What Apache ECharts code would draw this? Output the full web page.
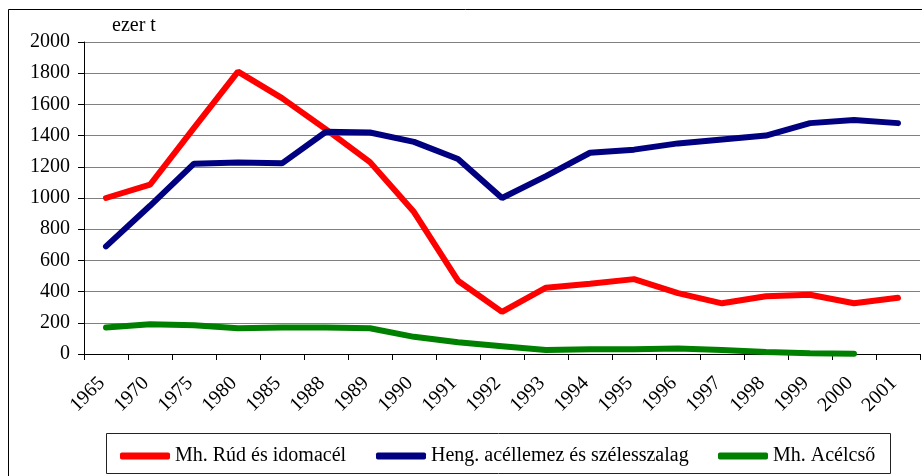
<!DOCTYPE html>
<html>
<head>
<meta charset="utf-8">
<script src="https://cdn.jsdelivr.net/npm/echarts@6/dist/echarts.min.js"></script>
<style>
  html, body { margin: 0; padding: 0; background: #fff; }
  #chart { width: 922px; height: 476px; }
</style>
</head>
<body>
<div id="chart"></div>
<script>
// kategóriák (évek)
const years = ["1965", "1970", "1975", "1980", "1985", "1988", "1989", "1990", "1991", "1992",
  "1993", "1994", "1995", "1996", "1997", "1998", "1999", "2000", "2001"];
// ezer t
const rud = [1000, 1085, 1450, 1810, 1640, 1440, 1230, 910, 470, 270,
  425, 450, 480, 390, 325, 370, 380, 325, 360];
const henger = [690, 950, 1220, 1228, 1222, 1425, 1420, 1360, 1250, 1000,
  1140, 1290, 1310, 1350, 1375, 1400, 1480, 1500, 1480];
const acelcso = [170, 190, 185, 165, 170, 170, 165, 110, 75, 50,
  25, 30, 30, 35, 25, 13, 5, 2, null];
const yTicks = { min: 0, max: 2000, interval: 200 };

const names = ["Mh. Rúd és idomacél", "Heng. acéllemez és szélesszalag", "Mh. Acélcső"];
const colors = ["#ff0000", "#000080", "#008000"];
const font = "'Liberation Serif', 'Times New Roman', serif";

const chart = echarts.init(document.getElementById("chart"));

const legendItem = (i, left) => ({
  data: [names[i]],
  left: left,
  top: 446,
  padding: 0,
  icon: "roundRect",
  itemWidth: 50,
  itemHeight: 7,
  textStyle: { fontFamily: font, fontSize: 20, color: "#000" }
});

const option = {
  animation: false,
  grid: { left: 84, right: 2, top: 42, bottom: 122 },
  graphic: [
    {
      type: "rect",
      shape: { x: 8.5, y: 9.5, width: 930, height: 480 },
      style: { fill: "none", stroke: "#000", lineWidth: 1 },
      silent: true
    },
    {
      type: "rect",
      shape: { x: 106.5, y: 433.5, width: 784, height: 40 },
      style: { fill: "none", stroke: "#222", lineWidth: 1 },
      silent: true
    },
    {
      type: "text",
      left: 112,
      top: 16,
      style: { text: "ezer t", font: "20px " + font, fill: "#000" }
    }
  ],
  legend: [legendItem(0, 120), legendItem(1, 376), legendItem(2, 718)],
  xAxis: {
    type: "category",
    data: years,
    boundaryGap: true,
    axisLine: { lineStyle: { color: "#000", width: 1 } },
    axisTick: { show: true, length: 6, lineStyle: { color: "#000" } },
    axisLabel: {
      rotate: 45,
      interval: 0,
      margin: 22,
      padding: [0, 6, 0, 0],
      fontFamily: font,
      fontSize: 20,
      color: "#000"
    }
  },
  yAxis: {
    type: "value",
    min: yTicks.min,
    max: yTicks.max,
    interval: yTicks.interval,
    axisLine: { show: true, lineStyle: { color: "#000", width: 1 } },
    axisTick: { show: true, length: 6, lineStyle: { color: "#000" } },
    splitLine: { lineStyle: { color: "#808080", width: 1 } },
    axisLabel: {
      margin: 14,
      fontFamily: font,
      fontSize: 20,
      color: "#000",
      formatter: (v) => String(v)
    }
  },
  series: [
    { name: names[0], type: "line", data: rud },
    { name: names[1], type: "line", data: henger },
    { name: names[2], type: "line", data: acelcso }
  ].map((s, i) => Object.assign(s, {
    symbol: "none",
    color: colors[i],
    lineStyle: { color: colors[i], width: 6, cap: "round" }
  }))
};

chart.setOption(option);
</script>
</body>
</html>
